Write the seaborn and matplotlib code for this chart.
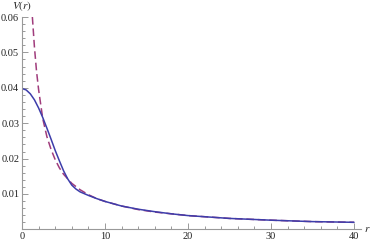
"""
V(r): full potential vs. asymptotic tail
"""
import pandas as pd
import matplotlib
matplotlib.use("Agg")
import matplotlib.pyplot as plt
from matplotlib.ticker import MultipleLocator
import seaborn as sns

# values
R_SOLID = [0, 0.5, 1.0, 1.5, 2.0, 2.5, 3.0, 3.5, 4.0, 4.5, 5.0, 5.5, 6.0, 6.5,
           7.0, 8, 9, 10, 12, 14, 16, 18, 20, 25, 30, 35, 40]
V_SOLID = [0.0398, 0.0394, 0.0383, 0.0366, 0.0343, 0.0316, 0.0286, 0.0255,
           0.0223, 0.0194, 0.0166, 0.0143, 0.0125, 0.0114, 0.0106, 0.0096,
           0.0087, 0.0079, 0.0066, 0.0057, 0.0050, 0.0044, 0.0039, 0.0031,
           0.0026, 0.0022, 0.0020]

R_DASHED = [1.25, 1.5, 1.75, 2.0, 2.5, 3.0, 3.5, 4.0, 4.5, 5.0, 6.0, 7.0, 8.0,
            9.0, 10, 12, 14, 16, 18, 20, 25, 30, 35, 40]
V_DASHED = [0.0600, 0.0515, 0.0447, 0.0395, 0.0313, 0.0262, 0.0226, 0.0197,
            0.0174, 0.0156, 0.0130, 0.0112, 0.0098, 0.0087, 0.0079, 0.0066,
            0.0056, 0.0049, 0.0044, 0.0039, 0.0031, 0.0026, 0.0022, 0.0020]

Y_TICKS = [0.01, 0.02, 0.03, 0.04, 0.05, 0.06]
X_TICKS = [0, 10, 20, 30, 40]

SOLID_COLOR = "#3d3daa"
DASHED_COLOR = "#a03c7c"
AXIS_COLOR = "#999999"

sns.set_style("ticks")
plt.rcParams["font.family"] = ["Liberation Serif", "DejaVu Serif"]
plt.rcParams["mathtext.fontset"] = "stix"

solid = pd.DataFrame({"r": R_SOLID, "V": V_SOLID})
dashed = pd.DataFrame({"r": R_DASHED, "V": V_DASHED})

fig = plt.figure(figsize=(3.74, 2.45), dpi=100)
ax = fig.add_axes([0.0588, 0.0637, 0.9056, 0.8669])

sns.lineplot(data=dashed, x="r", y="V", ax=ax, color=DASHED_COLOR,
             linewidth=1.1, sort=False)
ax.lines[-1].set_dashes([5, 2.5])
sns.lineplot(data=solid, x="r", y="V", ax=ax, color=SOLID_COLOR,
             linewidth=1.1, sort=False)

ax.set_xlim(0, 40.8)
ax.set_ylim(0, 0.06)

for side in ["top", "right"]:
    ax.spines[side].set_visible(False)
for side in ["left", "bottom"]:
    ax.spines[side].set_color(AXIS_COLOR)
    ax.spines[side].set_linewidth(0.8)

ax.set_xticks(X_TICKS)
ax.set_xticklabels([str(t) for t in X_TICKS])
ax.set_yticks(Y_TICKS)
ax.set_yticklabels([f"{t:.2f}" for t in Y_TICKS])
ax.xaxis.set_minor_locator(MultipleLocator(2))
ax.yaxis.set_minor_locator(MultipleLocator(0.002))
ax.tick_params(which="both", direction="in", color=AXIS_COLOR, width=0.7,
               labelsize=7.5, labelcolor="#222222", pad=2)
ax.tick_params(which="major", length=4)
ax.tick_params(which="minor", length=2)

ax.set_xlabel("")
ax.set_ylabel("")
ax.text(0.0, 1.02, "$V(r)$", transform=ax.transAxes, ha="center", va="bottom",
        fontsize=8, color="#222222")
ax.text(1.01, 0.0, "$r$", transform=ax.transAxes, ha="left", va="center",
        fontsize=8, color="#222222")

fig.savefig("out.png", dpi=100)
